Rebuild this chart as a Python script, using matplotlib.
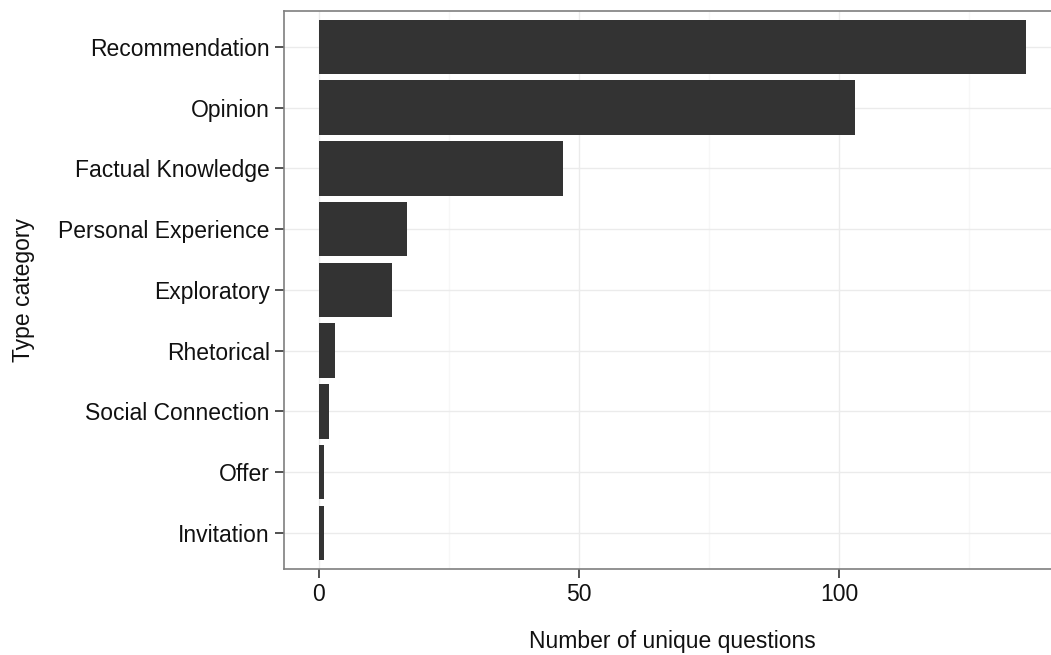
import matplotlib
matplotlib.use("Agg")
import matplotlib.pyplot as plt
from matplotlib.ticker import MultipleLocator

categories = ["Recommendation", "Opinion", "Factual Knowledge", "Personal Experience",
              "Exploratory", "Rhetorical", "Social Connection", "Offer", "Invitation"]
counts = [136, 103, 47, 17, 14, 3, 2, 1, 1]
x_ticks = [0, 50, 100]
x_label = "Number of unique questions"
y_label = "Type category"

plt.rcParams["font.family"] = ["Liberation Sans", "DejaVu Sans"]

W, H = 1051, 655
fig = plt.figure(figsize=(W / 100, H / 100), dpi=100)

# panel in pixel coordinates (right edge runs past the canvas)
left, right, top, bottom = 283.6, 1061.6, 10.5, 569.3
ax = fig.add_axes([left / W, 1 - bottom / H, (right - left) / W, (bottom - top) / H])

n = len(categories)
ypos = list(range(n, 0, -1))
ax.barh(ypos, counts, height=0.9, color="#333333", zorder=3)

xmax = max(counts)
ax.set_xlim(-0.05 * xmax, 1.05 * xmax)
ax.set_ylim(0.4, n + 0.6)

ax.set_xticks(x_ticks)
ax.xaxis.set_minor_locator(MultipleLocator(25))
ax.set_yticks(ypos)
ax.set_yticklabels(categories)

ax.grid(which="major", color="#ebebeb", linewidth=1.0, zorder=0)
ax.grid(which="minor", axis="x", color="#f7f7f7", linewidth=1.0, zorder=0)
ax.tick_params(axis="x", which="minor", length=0)
ax.tick_params(axis="both", which="major", length=6.5, width=1.2, color="#333333",
               labelsize=16.5, labelcolor="#111111")
ax.tick_params(axis="y", pad=3.5)
ax.tick_params(axis="x", pad=3.5)
ax.set_axisbelow(True)

for s in ax.spines.values():
    s.set_color("#7f7f7f")
    s.set_linewidth(1.2)

ax.set_xlabel(x_label, fontsize=16.5, color="#111111", labelpad=17)
ax.set_ylabel(y_label, fontsize=16.5, color="#111111", labelpad=17)

fig.savefig("out.png", dpi=100, facecolor="white")
